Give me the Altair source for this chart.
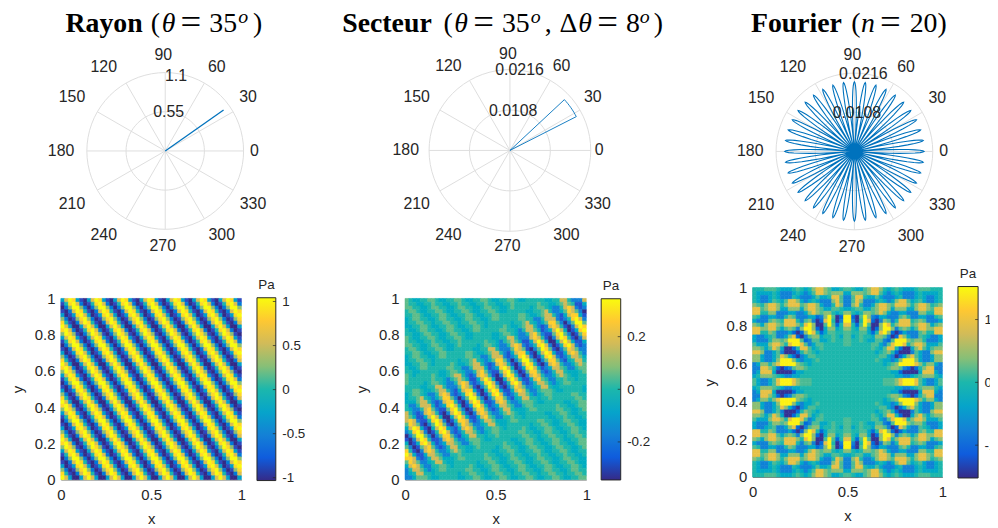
import math
import altair as alt
import pandas as pd

alt.data_transformers.disable_max_rows()

# ---------- colours and fonts ----------
PARULA = ["#352A87", "#0F5CDD", "#1481D6", "#06A4CA", "#1CB7AC", "#87BF77", "#D1BB59", "#FEC832", "#F9FB0E"]
INK = "#262626"
GRID = "#dedede"
LINE = "#0072BD"
SANS = "Liberation Sans"
SERIF = "Liberation Serif"
W, H = 990, 518

# ---------- polar data ----------
spoke_angles = [0, 30, 60, 90, 120, 150, 180, 210, 240, 270, 300, 330]
angle_labels = ["0", "30", "60", "90", "120", "150", "180", "210", "240", "270", "300", "330"]
label_right_px = [90, 83.5, 52, -2, -62, -94, -105, -94, -62, -2.5, 57, 88.5]
label_up_px = [0, 54, 85, 97, 85, 54, 0, -54, -85, -96, -85, -54]
ring_angles = list(range(0, 365, 5))

rayon_theta = [35, 35]
rayon_r = [0, 1.0]
secteur_theta = [0, 27, 29, 31, 33, 35, 37, 39, 41, 43, 0]
secteur_r = [0, 0.0199, 0.0199, 0.0199, 0.0199, 0.0199, 0.0199, 0.0199, 0.0199, 0.0199, 0]
lobe_peaks = [0, 9, 18, 27, 36, 45, 54, 63, 72, 81, 90, 99, 108, 117, 126, 135, 144, 153, 162, 171,
              180, 189, 198, 207, 216, 225, 234, 243, 252, 261, 270, 279, 288, 297, 306, 315, 324, 333, 342, 351]
lobe_offsets = [-4.5, -4, -3.5, -3, -2.5, -2, -1.5, -1, -0.5, 0, 0.5, 1, 1.5, 2, 2.5, 3, 3.5, 4]
lobe_r = [0, 0.0034, 0.0066, 0.0096, 0.0124, 0.0148, 0.0167, 0.0181, 0.0189, 0.0192,
          0.0189, 0.0181, 0.0167, 0.0148, 0.0124, 0.0096, 0.0066, 0.0034]

# ---------- heatmap levels: digit 0..8 picks a pressure from these tables, rows from the top ----------
rayon_levels = [-1.03, -0.86, -0.575, -0.29, 0, 0.29, 0.575, 0.86, 1.03]
secteur_levels = [-0.34, -0.27, -0.17, -0.05, 0, 0.05, 0.17, 0.27, 0.34]
fourier_levels = [-1.45, -1.0, -0.75, -0.3, 0, 0.15, 0.4, 0.95, 1.45]

rayon_motif = ["3687310", "1478620", "0258852", "1026874", "3013786",
               "5201578", "7410268", "8630036", "7862014", "5875102"]
rayon_rows = [(m * 7)[:48] for m in (rayon_motif * 5)[:48]]

secteur_rows = [
    "5433445"*4 + "5433" + "4444" + "43344" + "66422" + "26",
    "5443344"*4 + "544" + "4444" + "54433" + "45654" + "113",
    "5544334"*4 + "5" + "4444" + "34554" + "32246" + "76212",
    "4554334"*4 + "4444" + "33445" + "64223" + "57652" + "0",
    "4455433"*3 + "44554" + "4444" + "55433" + "45664" + "21367" + "731",
    "3455443"*3 + "3455" + "4444" + "45544" + "22466" + "62124" + "7862",
    "3445544"*3 + "34" + "4444" + "43445" + "64323" + "57752" + "025885",
    "3344554"*3 + "3" + "4444" + "54334" + "56642" + "12676" + "4102687",
    "4334554"*3 + "4444" + "55443" + "24665" + "31236" + "86301378",
    "4433455"*2 + "44334" + "4444" + "33455" + "43224" + "67521" + "1578520157",
    "5433445"*2 + "5433" + "4444" + "43344" + "66422" + "26764" + "1026874102" + "6",
    "5443344"*2 + "54" + "4444" + "45443" + "24565" + "31136" + "8630036863" + "113",
    "5544334"*2 + "5" + "4444" + "34554" + "32246" + "76212" + "4786201478" + "6212",
    "4554334" + "455433" + "4444" + "43344" + "66422" + "25765" + "1025875102" + "57652" + "2",
    "4455433" + "44554" + "4444" + "55433" + "45664" + "21367" + "7310368731" + "13676" + "42",
    "3455443" + "3455" + "4444" + "45544" + "22466" + "62124" + "7862014786" + "21246" + "653",
    "3445544" + "34" + "4444" + "43445" + "64323" + "57752" + "0258852025" + "77521" + "34664",
    "3344554" + "3" + "4444" + "54334" + "56642" + "12676" + "4102687410" + "26764" + "22356" + "5",
    "433455" + "4444" + "45544" + "22466" + "63123" + "7863013786" + "31236" + "65422" + "455",
    "44334" + "4444" + "33455" + "43224" + "67521" + "1578520157" + "75212" + "46643" + "3345",
    "543" + "4444" + "54334" + "56642" + "12676" + "4102687410" + "26764" + "22356" + "54334" + "4",
    "54" + "4444" + "45443" + "24565" + "31136" + "8630036863" + "11367" + "54224" + "45443" + "44",
    "5" + "4444" + "34554" + "32246" + "76212" + "4786201478" + "62124" + "66532" + "34554" + "444",
    "444" + "43344" + "66422" + "25765" + "1025875102" + "57652" + "23466" + "43344" + "4444" + "3",
    "44" + "55433" + "45664" + "21367" + "7310368731" + "13676" + "42245" + "55433" + "4444" + "43",
    "34554" + "32246" + "76212" + "4786201478" + "62124" + "66532" + "34554" + "4444" + "5544",
    "3445" + "64323" + "57752" + "0258852025" + "77521" + "34664" + "43445" + "4444" + "44554",
    "33" + "35664" + "21267" + "7410268741" + "12676" + "42235" + "55433" + "4444" + "4334455",
    "4" + "22466" + "63123" + "7863013786" + "31236" + "65422" + "45544" + "4444" + "54433455",
    "43224" + "67521" + "1578520157" + "75212" + "46643" + "33455" + "4444" + "455443345",
    "642" + "12676" + "4102687410" + "26764" + "22356" + "54334" + "4444" + "33445543344",
    "65" + "31136" + "8630036863" + "11367" + "54224" + "45443" + "4444" + "443344544334",
    "67621" + "1478620147" + "76212" + "46653" + "33455" + "4444" + "45544334554433",
    "5765" + "1025875102" + "57652" + "23466" + "43344" + "4444" + "344554334455433",
    "36" + "8731036873" + "21367" + "64224" + "45543" + "4444" + "54334455433445543",
    "2" + "4786201478" + "62124" + "66532" + "34554" + "4444" + "554433455443345544",
    "0258852025" + "77521" + "34664" + "43445" + "4444" + "4455443445544344554",
    "10268741" + "12676" + "42235" + "55433" + "4444" + "433445543344554334455",
    "3013786" + "31236" + "65422" + "45544" + "4444" + "5443345544334554433455",
    "52015" + "67521" + "24664" + "43345" + "4444" + "345544334554433455443345",
    "7410" + "26764" + "22356" + "54334" + "4444" + "33445" + "5433445"*2 + "543344",
    "86" + "31136" + "65422" + "44544" + "4444" + "5443344"*3 + "544334",
    "7" + "76212" + "46653" + "33455" + "4444" + "4" + "5544334"*3 + "554433",
    "57652" + "23466" + "43344" + "4444" + "34" + "4554334"*3 + "455433",
    "367" + "64224" + "45543" + "4444" + "5433" + "4455433"*3 + "445543",
    "24" + "66532" + "34554" + "4444" + "55443" + "3455443"*3 + "345544",
    "23466" + "44344" + "4444" + "3445544"*4 + "344554",
    "2235" + "55433" + "4444" + "4" + "3344554"*4 + "334455",
]

# upper-left quarter of the Fourier map; the map is mirrored about both centre lines
fourier_quarter = [
    "444555433345434677653345",
    "433334322234323577656663",
    "432234322243222353347752",
    "432235435776323432226752",
    "654677646777567763224762",
    "775677633666367765335543",
    "774466222332236765664346",
    "542233224652223312685018",
    "322256547774256201784028",
    "653677657776478600585147",
    "776677535652688610366346",
    "774465222310168741355445",
    "322345223671025663445435",
    "322246656888512553345445",
    "533367764788752355444445",
    "665357630014775345444444",
    "776223520001465434444444",
    "663223576310235544444444",
    "663223688863233454444444",
    "236646788886543444444444",
    "227764101256654444444444",
    "237773000013344444444444",
    "346665432233444444444444",
    "532235788876555444444444",
]
fourier_left = fourier_quarter + fourier_quarter[::-1]
fourier_rows = [r + r[::-1] for r in fourier_left]

for grid in (rayon_rows, secteur_rows, fourier_rows):
    assert len(grid) == 48 and all(len(r) == 48 for r in grid), [len(r) for r in grid]

# ---------- titles: (text, x, weight, style, size, raised) ----------
title_rayon = [("Rayon", 58, "bold", "normal", 28, 0), ("(", 144, "normal", "normal", 28, 0),
               ("θ", 155, "normal", "italic", 28, 0), ("=", 174, "normal", "normal", 37, -2.5),
               ("35", 203, "normal", "normal", 28, 0), ("o", 232, "normal", "italic", 20, 9),
               (")", 247, "normal", "normal", 28, 0)]
title_secteur = [("Secteur", 337, "bold", "normal", 28, 0), ("(", 439, "normal", "normal", 28, 0),
                 ("θ", 450, "normal", "italic", 28, 0), ("=", 469, "normal", "normal", 37, -2.5),
                 ("35", 498, "normal", "normal", 28, 0), ("o", 527, "normal", "italic", 20, 9),
                 (",", 541, "normal", "normal", 28, 0), ("Δ", 556, "normal", "normal", 28, 0),
                 ("θ", 575, "normal", "italic", 28, 0), ("=", 594, "normal", "normal", 37, -2.5),
                 ("8", 623, "normal", "normal", 28, 0), ("o", 637, "normal", "italic", 20, 9),
                 (")", 651, "normal", "normal", 28, 0)]
title_fourier = [("Fourier", 749, "bold", "normal", 28, 0), ("(", 850, "normal", "normal", 28, 0),
                 ("n", 860, "normal", "italic", 28, 0), ("=", 879, "normal", "normal", 37, -2.5),
                 ("20", 909, "normal", "normal", 28, 0), (")", 937, "normal", "normal", 28, 0)]

one = pd.DataFrame({"a": [0]})


def polar_panel(cx, cy, radius, rmax, rticks, rtick_px, series, line_width, title):
    k = rmax / radius
    xs = alt.Scale(domain=[-rmax, rmax], range=[cx - radius, cx + radius], nice=False, zero=False)
    ys = alt.Scale(domain=[-rmax, rmax], range=[cy + radius, cy - radius], nice=False, zero=False)

    def xy(theta, r):
        return r * math.cos(math.radians(theta)), r * math.sin(math.radians(theta))

    rings = []
    for r in rticks:
        for n, a in enumerate(ring_angles):
            x, y = xy(a, r)
            rings.append({"x": x, "y": y, "id": r, "n": n})
    spokes = []
    for a in spoke_angles:
        for n, r in enumerate([0, rmax]):
            x, y = xy(a, r)
            spokes.append({"x": x, "y": y, "id": a, "n": n})
    trace = []
    for n, (a, r) in enumerate(series):
        x, y = xy(a, r)
        trace.append({"x": x, "y": y, "n": n})
    labels = [{"x": dx * k, "y": dy * k, "t": t} for dx, dy, t in zip(label_right_px, label_up_px, angle_labels)]
    rlabels = [{"x": dx * k, "y": dy * k, "t": t} for (dx, dy), t in zip(rtick_px, [str(v) for v in rticks])]

    X = alt.X("x:Q", scale=xs, axis=None)
    Y = alt.Y("y:Q", scale=ys, axis=None)
    layers = [
        alt.Chart(pd.DataFrame(spokes)).mark_line(color=GRID, strokeWidth=1).encode(X, Y, detail="id:N", order="n:Q"),
        alt.Chart(pd.DataFrame(rings)).mark_line(color=GRID, strokeWidth=1).encode(X, Y, detail="id:N", order="n:Q"),
        alt.Chart(pd.DataFrame(trace)).mark_line(color=LINE, strokeWidth=line_width).encode(X, Y, order="n:Q"),
        alt.Chart(pd.DataFrame(labels)).mark_text(font=SANS, fontSize=16, color=INK).encode(X, Y, text="t:N"),
        alt.Chart(pd.DataFrame(rlabels)).mark_text(font=SANS, fontSize=16, color=INK).encode(X, Y, text="t:N"),
    ]
    for text, px, weight, style, size, raised in title:
        layers.append(
            alt.Chart(one).mark_text(text=text, font=SERIF, fontSize=size, fontWeight=weight, fontStyle=style,
                                     align="left", baseline="alphabetic", color="#000000")
            .encode(x=alt.value(px), y=alt.value(22 - raised))
        )
    return layers


def heat_panel(rows, levels, limit, left, right, top, bottom):
    n = 48
    cells = []
    for j, row in enumerate(rows):
        for i, ch in enumerate(row):
            cells.append({"x0": i / n, "x1": (i + 1) / n, "y0": 1 - (j + 1) / n, "y1": 1 - j / n,
                          "v": levels[int(ch)]})
    colour = alt.Scale(domain=[-limit, limit], range=PARULA, clamp=True)
    return (
        alt.Chart(pd.DataFrame(cells)).mark_rect(strokeWidth=0.6).encode(
            x=alt.X("x0:Q", scale=alt.Scale(domain=[0, 1], range=[left, right], nice=False),
                    axis=alt.Axis(values=[0, 0.5, 1], labelExpr="''+datum.value", title="x", grid=False, ticks=False,
                                  orient="bottom", offset=bottom - H, labelFlush=False,
                                  domainColor=INK, domainWidth=0.6, labelFont=SANS, labelFontSize=15, labelColor=INK,
                                  labelPadding=8, titleFont=SANS, titleFontSize=15, titleColor=INK,
                                  titleFontWeight="normal", titlePadding=9)),
            x2="x1:Q",
            y=alt.Y("y0:Q", scale=alt.Scale(domain=[0, 1], range=[bottom, top], nice=False),
                    axis=alt.Axis(values=[0, 0.2, 0.4, 0.6, 0.8, 1], labelExpr="''+datum.value", title="y", grid=False,
                                  ticks=False, orient="left", offset=-left, labelFlush=False,
                                  domainColor=INK, domainWidth=0.6, labelFont=SANS, labelFontSize=15,
                                  labelColor=INK, labelPadding=6, titleFont=SANS, titleFontSize=15, titleColor=INK,
                                  titleFontWeight="normal", titlePadding=9)),
            y2="y1:Q",
            fill=alt.Fill("v:Q", scale=colour, legend=None),
            stroke=alt.Stroke("v:Q", scale=colour, legend=None),
        )
    )


def colour_bar(limit, ticks, left, right, top, bottom, range_bottom, range_top):
    ticks_df = pd.DataFrame({"t": ticks})
    ys = alt.Scale(domain=[-limit, limit], range=[range_bottom, range_top], nice=False)
    bar = alt.Chart(one).mark_rect(
        fill=alt.Gradient(gradient="linear", x1=0, x2=0, y1=1, y2=0,
                          stops=[alt.GradientStop(offset=i / 8, color=c) for i, c in enumerate(PARULA)]),
        stroke=INK, strokeWidth=1,
    ).encode(x=alt.value(left), x2=alt.value(right), y=alt.value(top), y2=alt.value(bottom))
    axis = alt.Chart(ticks_df).mark_rule(color=INK, strokeWidth=0.7).encode(
        x=alt.value(right - 3), x2=alt.value(right),
        y=alt.Y("t:Q", scale=ys,
                axis=alt.Axis(orient="right", offset=right - W, values=ticks, labelExpr="''+datum.value", title=None,
                              grid=False, ticks=False, domain=False, labelFont=SANS, labelFontSize=13.5,
                              labelColor=INK, labelPadding=6)),
    )
    unit = alt.Chart(one).mark_text(text="Pa", font=SANS, fontSize=13.5, color=INK).encode(
        x=alt.value((left + right) / 2), y=alt.value(top - 13))
    return [bar, axis, unit]


lobes = [(p + o, r) for p in lobe_peaks for o, r in zip(lobe_offsets, lobe_r)] + [(lobe_peaks[0] + lobe_offsets[0], lobe_r[0])]

layers = []
layers += polar_panel(158.5, 142, 79, 1.1, [0.55, 1.1], [(3.5, 39), (10.8, 76)],
                      list(zip(rayon_theta, rayon_r)), 1.3, title_rayon)
layers += polar_panel(506, 141.5, 81.5, 0.0216, [0.0108, 0.0216], [(3.3, 40), (9.7, 81)],
                      list(zip(secteur_theta, secteur_r)), 0.9, title_secteur)
layers += polar_panel(853.3, 142.5, 79, 0.0216, [0.0108, 0.0216], [(2.5, 39), (9, 78)],
                      lobes, 1.1, title_fourier)
layers.append(heat_panel(rayon_rows, rayon_levels, 1.03, 53.3, 235.3, 290.7, 473.3))
layers.append(heat_panel(secteur_rows, secteur_levels, 0.343, 400.3, 583, 290.7, 473.3))
layers.append(heat_panel(fourier_rows, fourier_levels, 1.516, 750.7, 942, 279.7, 470.7))
layers += colour_bar(1.03, [-1, -0.5, 0, 0.5, 1], 251, 270, 290, 474.3, 474.1, 291.1)
layers += colour_bar(0.343, [-0.2, 0, 0.2], 598, 617.7, 291, 473.7, 473.3, 291.3)
layers += colour_bar(1.516, [-1, 0, 1], 957.7, 978, 278.7, 471.7, 471.3, 279.3)

chart = (
    alt.layer(*layers)
    .resolve_scale(x="independent", y="independent", fill="independent", stroke="independent")
    .resolve_axis(x="independent", y="independent")
    .properties(width=W, height=H, padding=0, autosize=alt.AutoSizeParams(type="none"))
    .configure_view(stroke=None)
)
chart.save("out.html", embed_options={"renderer": "svg", "actions": False})
